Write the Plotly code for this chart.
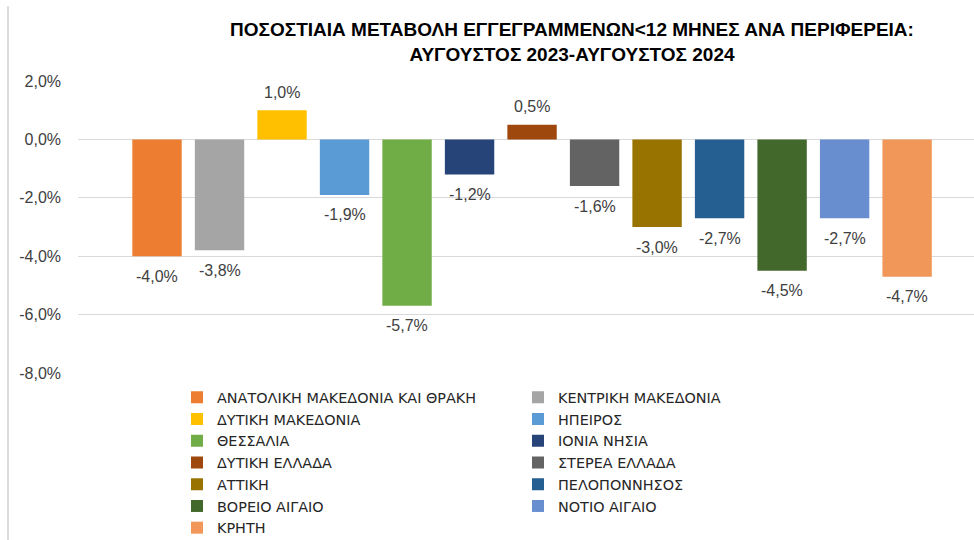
import plotly.graph_objects as go

regions = [
    "ΑΝΑΤΟΛΙΚΗ ΜΑΚΕΔΟΝΙΑ ΚΑΙ ΘΡΑΚΗ", "ΚΕΝΤΡΙΚΗ ΜΑΚΕΔΟΝΙΑ", "ΔΥΤΙΚΗ ΜΑΚΕΔΟΝΙΑ",
    "ΗΠΕΙΡΟΣ", "ΘΕΣΣΑΛΙΑ", "ΙΟΝΙΑ ΝΗΣΙΑ", "ΔΥΤΙΚΗ ΕΛΛΑΔΑ", "ΣΤΕΡΕΑ ΕΛΛΑΔΑ",
    "ΑΤΤΙΚΗ", "ΠΕΛΟΠΟΝΝΗΣΟΣ", "ΒΟΡΕΙΟ ΑΙΓΑΙΟ", "ΝΟΤΙΟ ΑΙΓΑΙΟ", "ΚΡΗΤΗ",
]
values = [-4.0, -3.8, 1.0, -1.9, -5.7, -1.2, 0.5, -1.6, -3.0, -2.7, -4.5, -2.7, -4.7]
colors = ["#ED7D31", "#A5A5A5", "#FFC000", "#5B9BD5", "#70AD47", "#264478", "#9E480E",
          "#636363", "#997300", "#255E91", "#43682B", "#698ED0", "#F1975A"]
y_ticks = [-8, -6, -4, -2, 0, 2]
y_ticktext = ["-8,0%", "-6,0%", "-4,0%", "-2,0%", "0,0%", "2,0%"]
title_lines = ["ΠΟΣΟΣΤΙΑΙΑ ΜΕΤΑΒΟΛΗ ΕΓΓΕΓΡΑΜΜΕΝΩΝ<12 ΜΗΝΕΣ ΑΝΑ ΠΕΡΙΦΕΡΕΙΑ:",
               "ΑΥΓΟΥΣΤΟΣ 2023-ΑΥΓΟΥΣΤΟΣ 2024"]

FONT = "Liberation Sans, Arial, sans-serif"
LEG_FONT = "DejaVu Sans, Liberation Sans, sans-serif"

fig = go.Figure()
for name, v, c in zip(regions, values, colors):
    fig.add_trace(go.Bar(x=[name], y=[v], name=name, marker_color=c,
                         marker_line_width=0, width=0.79, hoverinfo="x+y"))

for name, v in zip(regions, values):
    fig.add_annotation(x=name, y=v, text=f"{v:.1f}%".replace(".", ","),
                       showarrow=False, yanchor="middle",
                       yshift=18 if v >= 0 else -20,
                       font=dict(family=FONT, size=16, color="#404040"))

fig.update_layout(
    width=974, height=540,
    margin=dict(l=78, r=0, t=81, b=167, autoexpand=False),
    paper_bgcolor="white", plot_bgcolor="white",
    barmode="overlay",
    title=dict(text="<b>" + title_lines[0] + "</b><br><b>" + title_lines[1] + "</b>",
               x=572 / 974, xanchor="center", xref="container",
               y=1 - 36 / 540, yanchor="top", yref="container",
               font=dict(family=FONT, size=19, color="#000000")),
    font=dict(family=FONT, size=16, color="#595959"),
    xaxis=dict(categoryorder="array", categoryarray=regions,
               range=[-1.264, 13.07], showticklabels=False, showgrid=False,
               zeroline=False, showline=False, ticks=""),
    yaxis=dict(range=[-8, 2], tickvals=y_ticks, ticktext=y_ticktext,
               showgrid=True, gridcolor="#D9D9D9", gridwidth=1, zeroline=False,
               showline=False, ticks="", ticklabelstandoff=16,
               tickfont=dict(family=FONT, size=16, color="#404040")),
    legend=dict(orientation="h", x=(177 - 78) / 896, xanchor="left",
                y=(373 - 381.5) / 292, yanchor="top", yref="paper",
                entrywidth=296, entrywidthmode="pixels",
                font=dict(family=LEG_FONT, size=14.4, color="#262626"),
                bgcolor="rgba(0,0,0,0)", traceorder="normal"),
    shapes=[dict(type="line", xref="paper", yref="paper",
                 xsizemode="pixel", xanchor=0, x0=-70, x1=-70,
                 ysizemode="pixel", yanchor=0, y0=-167, y1=367,
                 line=dict(color="#D0D0D0", width=1.5))],
)

fig.write_html("out.html", config={"displayModeBar": False},
               post_script="document.body.style.margin='0';")
